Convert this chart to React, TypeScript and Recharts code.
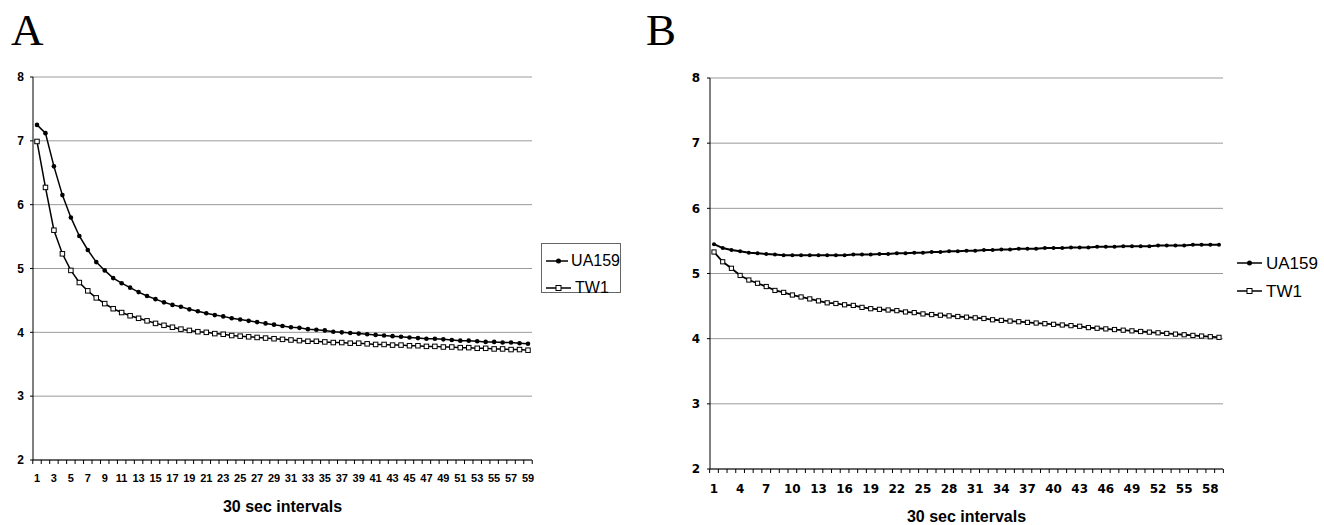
import { LineChart, Line, XAxis, YAxis, CartesianGrid, Legend } from "recharts";

// 30 sec interval index
const intervals = [
  1, 2, 3, 4, 5, 6, 7, 8, 9, 10, 11, 12, 13, 14, 15, 16, 17, 18, 19, 20,
  21, 22, 23, 24, 25, 26, 27, 28, 29, 30, 31, 32, 33, 34, 35, 36, 37, 38, 39, 40,
  41, 42, 43, 44, 45, 46, 47, 48, 49, 50, 51, 52, 53, 54, 55, 56, 57, 58, 59,
];

const yTicks = [2, 3, 4, 5, 6, 7, 8];

// panel A
const ua159A = [
  7.25, 7.12, 6.6, 6.15, 5.8, 5.51, 5.29, 5.1, 4.97, 4.85, 4.77, 4.7, 4.63, 4.57, 4.52,
  4.47, 4.43, 4.4, 4.36, 4.33, 4.3, 4.27, 4.25, 4.22, 4.2, 4.18, 4.16, 4.14, 4.12, 4.1,
  4.08, 4.07, 4.05, 4.04, 4.03, 4.01, 4.0, 3.99, 3.98, 3.97, 3.96, 3.95, 3.94, 3.93, 3.92,
  3.91, 3.9, 3.9, 3.89, 3.88, 3.87, 3.87, 3.86, 3.85, 3.85, 3.84, 3.84, 3.83, 3.82,
];
const tw1A = [
  6.99, 6.27, 5.6, 5.23, 4.97, 4.78, 4.65, 4.54, 4.45, 4.37, 4.31, 4.26, 4.22, 4.18, 4.14,
  4.11, 4.08, 4.05, 4.03, 4.01, 4.0, 3.98, 3.97, 3.95, 3.94, 3.93, 3.92, 3.91, 3.9, 3.89,
  3.88, 3.87, 3.86, 3.86, 3.85, 3.84, 3.84, 3.83, 3.83, 3.82, 3.81, 3.81, 3.8, 3.8, 3.79,
  3.79, 3.78, 3.78, 3.77, 3.77, 3.76, 3.76, 3.75, 3.75, 3.74, 3.74, 3.73, 3.73, 3.72,
];

// panel B
const ua159B = [
  5.45, 5.39, 5.36, 5.34, 5.32, 5.31, 5.3, 5.29, 5.28, 5.28, 5.28, 5.28, 5.28, 5.28, 5.28,
  5.28, 5.29, 5.29, 5.29, 5.3, 5.3, 5.31, 5.31, 5.32, 5.32, 5.33, 5.33, 5.34, 5.34, 5.35,
  5.35, 5.36, 5.36, 5.37, 5.37, 5.38, 5.38, 5.38, 5.39, 5.39, 5.39, 5.4, 5.4, 5.4, 5.41,
  5.41, 5.41, 5.42, 5.42, 5.42, 5.42, 5.43, 5.43, 5.43, 5.43, 5.44, 5.44, 5.44, 5.44,
];
const tw1B = [
  5.33, 5.18, 5.08, 4.97, 4.9, 4.85, 4.8, 4.74, 4.71, 4.67, 4.64, 4.61, 4.58, 4.55, 4.54,
  4.52, 4.51, 4.48, 4.46, 4.45, 4.44, 4.43, 4.41, 4.4, 4.38, 4.37, 4.36, 4.35, 4.34, 4.33,
  4.32, 4.31, 4.29, 4.28, 4.27, 4.26, 4.25, 4.24, 4.23, 4.22, 4.21, 4.2, 4.19, 4.17, 4.16,
  4.15, 4.14, 4.13, 4.12, 4.11, 4.1, 4.09, 4.08, 4.07, 4.06, 4.05, 4.04, 4.03, 4.02,
];

const dataA = intervals.map((t, i) => ({ t, UA159: ua159A[i], TW1: tw1A[i] }));
const dataB = intervals.map((t, i) => ({ t, UA159: ua159B[i], TW1: tw1B[i] }));

const ARIAL = "'Liberation Sans', Arial, sans-serif";
const VERDANA = "'DejaVu Sans', Verdana, sans-serif";
const TIMES = "'Liberation Serif', 'Times New Roman', serif";

// x tick: marks between categories (Excel style), label every `step`
const makeTick =
  (step: number, half: number, font: string, size: number, dy: number) =>
  (props: any) => {
    const { x, y, payload } = props;
    const i = payload?.index ?? props.index;
    return (
      <g>
        <line x1={x - half} x2={x - half} y1={y} y2={y + 4} stroke="#000" />
        {i === intervals.length - 1 && (
          <line x1={x + half} x2={x + half} y1={y} y2={y + 4} stroke="#000" />
        )}
        {i % step === 0 && (
          <text
            x={x}
            y={y + dy}
            textAnchor="middle"
            fontFamily={font}
            fontWeight="bold"
            fontSize={size}
            fill="#000"
          >
            {payload.value}
          </text>
        )}
      </g>
    );
  };

const Square = (props: any) => {
  const { cx, cy, index, size = 4.5 } = props;
  if (cx == null || cy == null) return null;
  return (
    <rect
      key={`sq-${index}`}
      x={cx - size / 2}
      y={cy - size / 2}
      width={size}
      height={size}
      fill="#fff"
      stroke="#000"
      strokeWidth={1}
    />
  );
};

const LegendItem = ({ name, square, font, size }: any) => (
  <div style={{ display: "flex", alignItems: "center", height: size + 11 }}>
    <svg width={27} height={10} style={{ marginRight: 3 }}>
      <line x1={1} x2={26} y1={5} y2={5} stroke="#000" strokeWidth={1.5} />
      {square ? (
        <rect x={11} y={2.5} width={5} height={5} fill="#fff" stroke="#000" />
      ) : (
        <circle cx={13.5} cy={5} r={2.5} fill="#000" />
      )}
    </svg>
    <span style={{ fontFamily: font, fontSize: size, color: "#000", lineHeight: 1 }}>{name}</span>
  </div>
);

const Title = ({ text, left }: { text: string; left: number }) => (
  <div
    style={{
      position: "absolute",
      left,
      top: 5,
      fontFamily: TIMES,
      fontSize: 45,
      lineHeight: "50px",
      color: "#000",
    }}
  >
    {text}
  </div>
);

export default function App() {
  return (
    <div style={{ position: "absolute", left: 0, top: 0, width: 1324, height: 525, background: "#fff" }}>
      <Title text="A" left={11} />
      <Title text="B" left={646} />

      <div style={{ position: "absolute", left: 0, top: 0 }}>
        <LineChart width={660} height={525} data={dataA} margin={{ top: 77, right: 128, bottom: 13, left: 0 }}>
          <CartesianGrid vertical={false} stroke="#9a9a9a" />
          <XAxis
            dataKey="t"
            interval={0}
            padding={{ left: 4, right: 4 }}
            height={52}
            stroke="#000"
            tickLine={false}
            tickSize={0}
            tickMargin={0}
            tick={makeTick(2, 4.23, ARIAL, 11, 22)}
            label={{
              value: "30 sec intervals",
              position: "insideBottom",
              offset: 0,
              fontFamily: ARIAL,
              fontWeight: "bold",
              fontSize: 16,
              fill: "#000",
            }}
          />
          <YAxis
            domain={[2, 8]}
            ticks={yTicks}
            width={33}
            stroke="#000"
            tickSize={3}
            tickMargin={6}
            tick={{ fontFamily: ARIAL, fontWeight: "bold", fontSize: 12, fill: "#000" }}
          />
          <Legend
            layout="vertical"
            align="center"
            verticalAlign="middle"
            wrapperStyle={{
              left: 541,
              top: 243,
              width: 80,
              height: 50,
              border: "1px solid #666",
              boxSizing: "border-box",
              padding: "3px 0 0 3px",
            }}
            content={() => (
              <div>
                <LegendItem name="UA159" font={ARIAL} size={16} />
                <LegendItem name="TW1" square font={ARIAL} size={16} />
              </div>
            )}
          />
          <Line
            dataKey="UA159"
            stroke="#000"
            strokeWidth={1.5}
            dot={{ r: 2.3, fill: "#000", stroke: "#000", strokeWidth: 0 }}
            activeDot={false}
            isAnimationActive={false}
          />
          <Line
            dataKey="TW1"
            stroke="#000"
            strokeWidth={1.5}
            dot={<Square size={4.5} />}
            activeDot={false}
            isAnimationActive={false}
          />
        </LineChart>
      </div>

      <div style={{ position: "absolute", left: 660, top: 0 }}>
        <LineChart width={664} height={525} data={dataB} margin={{ top: 78, right: 101, bottom: 3, left: 0 }}>
          <CartesianGrid vertical={false} stroke="#9a9a9a" />
          <XAxis
            dataKey="t"
            interval={0}
            padding={{ left: 4, right: 4 }}
            height={53}
            stroke="#000"
            tickLine={false}
            tickSize={0}
            tickMargin={0}
            tick={makeTick(3, 4.37, VERDANA, 12, 24)}
            label={{
              value: "30 sec intervals",
              position: "insideBottom",
              offset: 0,
              fontFamily: ARIAL,
              fontWeight: "bold",
              fontSize: 16,
              fill: "#000",
            }}
          />
          <YAxis
            domain={[2, 8]}
            ticks={yTicks}
            width={50}
            stroke="#000"
            tickSize={3}
            tickMargin={7}
            tick={{ fontFamily: VERDANA, fontWeight: "bold", fontSize: 12, fill: "#000" }}
          />
          <Legend
            layout="vertical"
            align="center"
            verticalAlign="middle"
            wrapperStyle={{ left: 576, top: 249, width: 90, height: 50 }}
            content={() => (
              <div>
                <LegendItem name="UA159" font={ARIAL} size={17} />
                <LegendItem name="TW1" square font={ARIAL} size={17} />
              </div>
            )}
          />
          <Line
            dataKey="UA159"
            stroke="#000"
            strokeWidth={2}
            dot={{ r: 2, fill: "#000", stroke: "#000", strokeWidth: 0 }}
            activeDot={false}
            isAnimationActive={false}
          />
          <Line
            dataKey="TW1"
            stroke="#000"
            strokeWidth={1.8}
            dot={<Square size={4.2} />}
            activeDot={false}
            isAnimationActive={false}
          />
        </LineChart>
      </div>
    </div>
  );
}
